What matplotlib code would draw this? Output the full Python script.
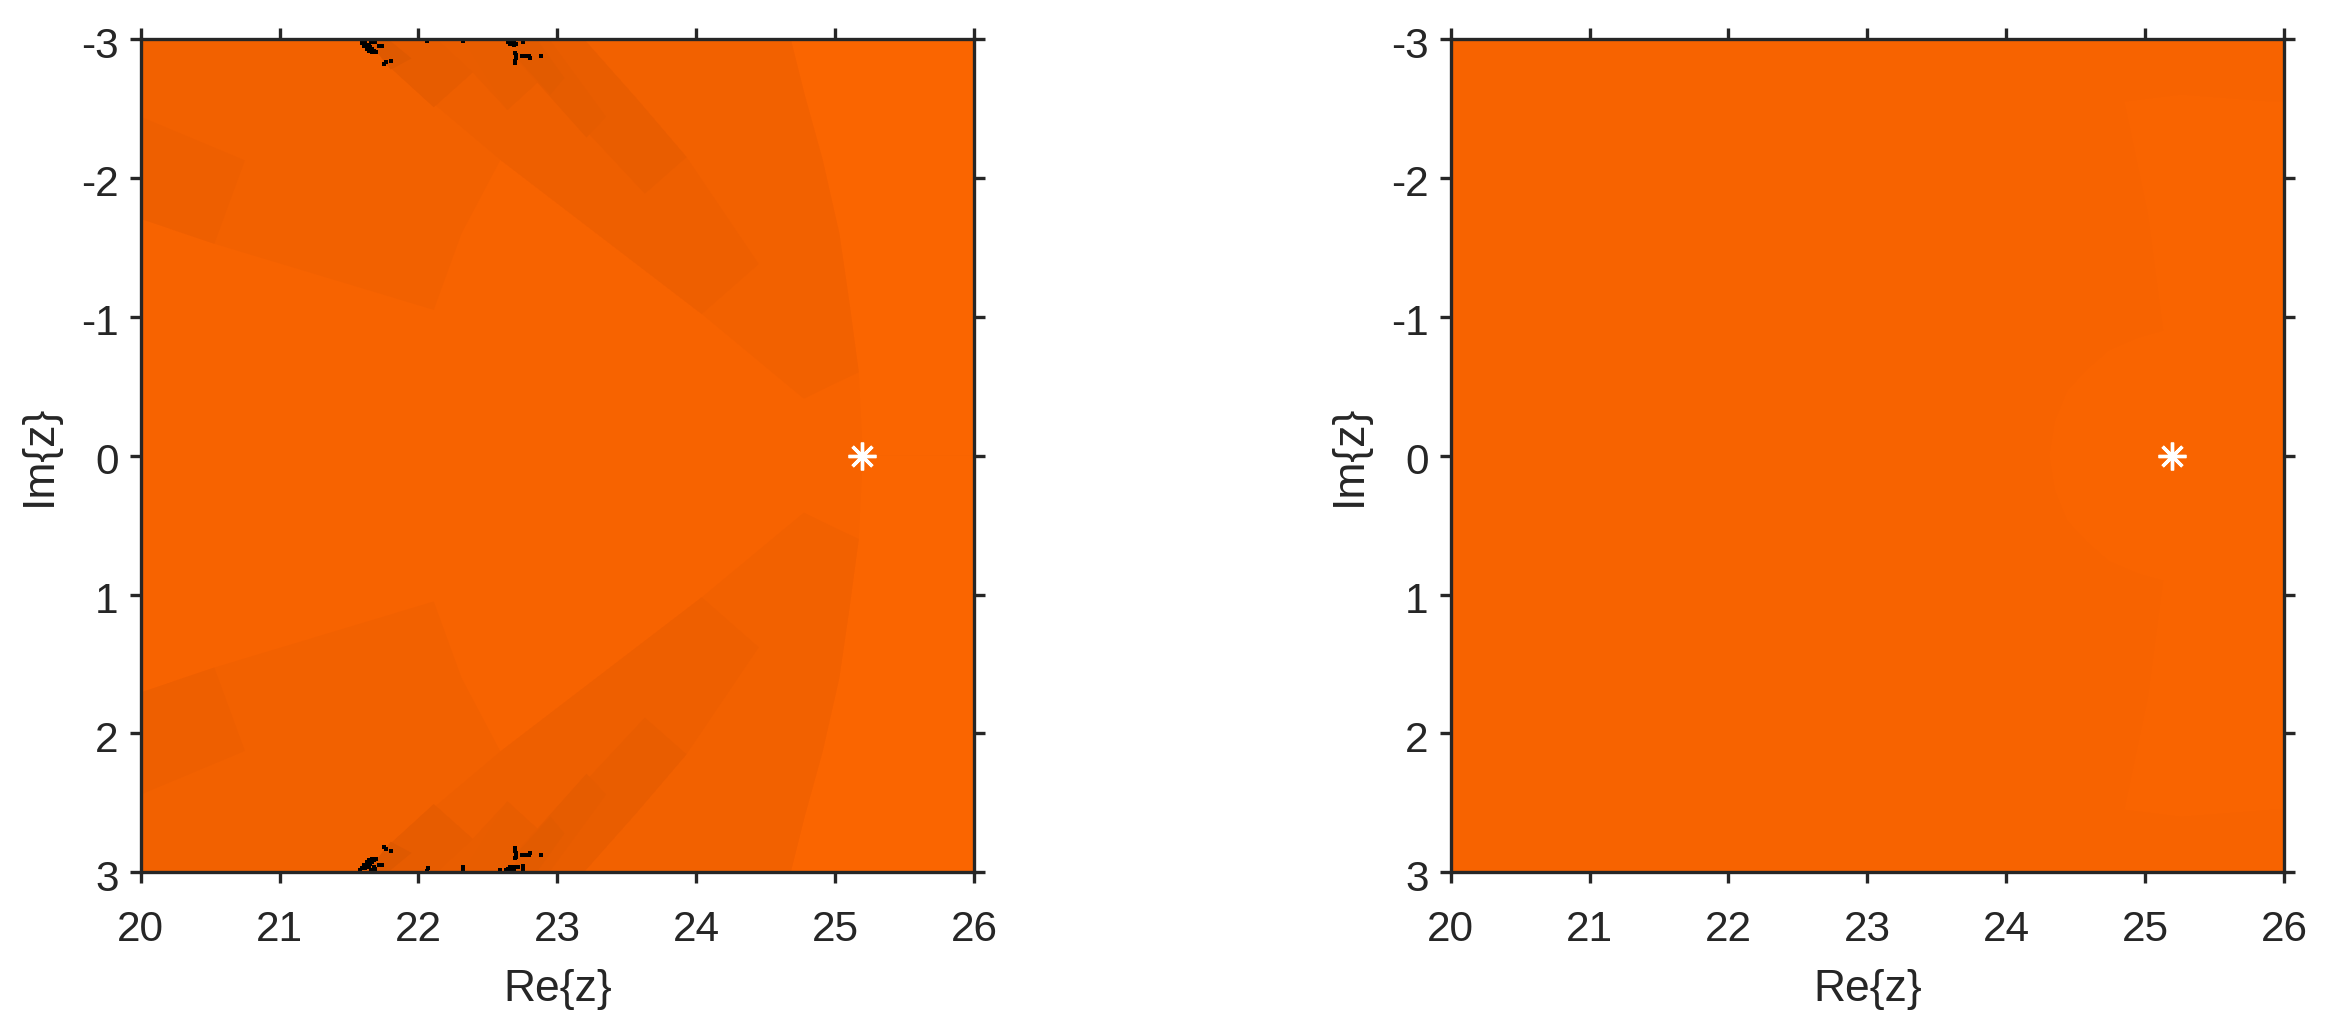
import numpy as np
import matplotlib
matplotlib.use("Agg")
import matplotlib.pyplot as plt
from matplotlib.transforms import ScaledTranslation

plt.rcParams['font.family'] = ['Liberation Sans', 'DejaVu Sans']
plt.rcParams['axes.unicode_minus'] = False

# Axis ticks
x_ticks = [20, 21, 22, 23, 24, 25, 26]
y_ticks = [-3, -2, -1, 0, 1, 2, 3]
star_re = 25.19
star_im = 0.0

# Region outlines in the upper half plane (mirrored across Im{z}=0)
region_a = [(20, -3), (24.68, -3), (24.78, -2.6), (24.91, -2.13), (25.03, -1.6), (25.10, -1.12),
            (25.17, -0.6), (25.0, -0.52), (24.775, -0.41), (24.04, -1.02), (22.59, -2.13),
            (22.31, -1.6), (22.11, -1.05), (20.53, -1.526), (20, -1.706)]
region_b = [(20, -2.44), (20.75, -2.126), (20.53, -1.526), (20, -1.706)]
region_c = [(21.63, -3), (23.19, -3), (23.58, -2.56), (23.93, -2.15), (24.45, -1.38),
            (24.04, -1.02), (22.59, -2.13), (21.77, -2.82)]
region_d = [(21.63, -3), (23.19, -3), (23.58, -2.56), (23.93, -2.15), (23.63, -1.886),
            (22.87, -2.70), (22.64, -2.49), (22.39, -2.76), (22.11, -2.51), (21.77, -2.82)]
region_e1 = [(21.63, -3), (21.77, -2.82), (22.11, -2.51), (22.39, -2.76), (22.13, -3)]
region_e2 = [(22.32, -3), (22.64, -2.49), (22.87, -2.70), (22.72, -3)]
region_e3 = [(22.70, -3), (22.71, -2.85), (23.21, -2.29), (23.35, -2.44), (22.94, -3)]
region_f1 = [(21.63, -3), (21.80, -2.78), (21.95, -2.86), (21.78, -3)]
region_f2 = [(22.68, -3), (22.72, -2.85), (22.95, -2.60), (23.05, -2.72), (22.85, -3)]
region_right_panel = [(26, -2.55), (25.91, -2.55), (25.26, -2.60), (24.85, -2.55), (25.02, -1.74),
                      (25.13, -0.9), (24.95, -0.85), (24.74, -0.76), (24.58, -0.62), (24.44, -0.47),
                      (24.35, -0.25), (24.31, 0)]

# Black specks
speck_re_top = [21.594, 21.606, 21.618, 21.618, 21.630, 21.642, 21.642, 21.654, 21.666, 21.666,
                21.661, 21.690, 21.713, 21.737, 21.694, 21.799, 21.766, 21.754, 22.645, 22.669,
                22.688, 22.688, 22.753, 22.693, 22.705, 22.705, 22.693, 22.693, 22.746, 22.765,
                22.798, 22.803, 22.884, 22.065, 22.323,
                21.606, 21.630, 21.630, 21.654, 21.642, 21.666, 21.678, 22.657, 22.700]
speck_im_top = [-2.970, -2.960, -2.970, -2.951, -2.941, -2.960, -2.932, -2.922, -2.912, -2.903,
                -2.980, -2.980, -2.951, -2.951, -2.903, -2.845, -2.831, -2.817, -2.975, -2.975,
                -2.975, -2.960, -2.977, -2.900, -2.888, -2.860, -2.845, -2.828, -2.874, -2.874,
                -2.879, -2.862, -2.874, -2.989, -2.989,
                -2.950, -2.955, -2.925, -2.940, -2.915, -2.925, -2.910, -2.965, -2.965]
speck_re_bottom = [21.582, 21.666, 21.678, 21.690, 22.067, 22.320, 22.320, 22.588, 22.633, 22.753,
                   22.753, 22.681, 22.717]
speck_im_bottom = [2.980, 2.980, 2.960, 2.975, 2.970, 2.975, 2.960, 2.985, 2.985, 2.955,
                   2.985, 2.970, 2.965]

BASE = '#F76300'
LIGHT = '#FA6500'
TEXT = '#262626'

W, H = 2343, 1033
fig = plt.figure(figsize=(W / 100, H / 100), dpi=100, facecolor='white')


def make_axes(l, r, t=39, b=872.3):
    return fig.add_axes([l / W, 1 - b / H, (r - l) / W, (b - t) / H])


def both(ax, verts, color, z):
    v = np.array(verts, float)
    ax.fill(v[:, 0], v[:, 1], color=color, lw=0, zorder=z)
    ax.fill(v[:, 0], -v[:, 1], color=color, lw=0, zorder=z)


def style(ax):
    ax.set_xlim(20, 26)
    ax.set_ylim(3, -3)
    ax.set_xticks(x_ticks)
    ax.set_yticks(y_ticks)
    ax.tick_params(axis='x', which='both', direction='out', length=7.9, width=2.4, top=True, bottom=True,
                   color=TEXT, labelcolor=TEXT, labelsize=30.5, pad=19)
    ax.tick_params(axis='y', which='both', direction='out', length=7.9, width=2.4, left=True, right=True,
                   color=TEXT, labelcolor=TEXT, labelsize=30.5, pad=8)
    for s in ax.spines.values():
        s.set_linewidth(2.4)
        s.set_color(TEXT)
        s.set_zorder(10)
    ax.set_facecolor(BASE)
    ax.set_xlabel('Re{z}', fontsize=32, color=TEXT, labelpad=14)
    ax.set_ylabel('Im{z}', fontsize=32, color=TEXT, labelpad=15)
    off = ScaledTranslation(0, -3 / 100, fig.dpi_scale_trans)
    for lab in ax.get_yticklabels():
        lab.set_transform(lab.get_transform() + off)
    ax.plot([star_re], [star_im], linestyle='none', marker=(8, 2, 0), ms=20, mew=2.4, color='white', zorder=8)


# Left panel
axl = make_axes(140.7, 974)
light = np.array([(26, -3), (24.68, -3), (24.78, -2.6), (24.91, -2.13), (25.03, -1.6), (25.10, -1.12),
                  (25.17, -0.6), (25.20, 0), (26, 0)], float)
axl.fill(light[:, 0], light[:, 1], color=LIGHT, lw=0, zorder=1)
axl.fill(light[:, 0], -light[:, 1], color=LIGHT, lw=0, zorder=1)
both(axl, region_a, '#F26100', 2)
both(axl, region_b, '#EE5F00', 3)
both(axl, region_c, '#EE5F00', 3)
both(axl, region_d, '#E95D00', 4)
both(axl, region_e1, '#E75C00', 5)
both(axl, region_e2, '#E85D00', 5)
both(axl, region_e3, '#E65C00', 5)
both(axl, region_f1, '#DF5900', 6)
both(axl, region_f2, '#E25B00', 6)
axl.scatter(speck_re_top, speck_im_top, s=8, marker='s', color='black', lw=0, zorder=7)
axl.scatter(speck_re_top, np.negative(speck_im_top), s=8, marker='s', color='black', lw=0, zorder=7)
axl.scatter(speck_re_bottom, speck_im_bottom, s=8, marker='s', color='black', lw=0, zorder=7)
style(axl)

# Right panel
axr = make_axes(1450.7, 2284)
v = np.array(region_right_panel, float)
outline = np.vstack([v, v[-2::-1] * [1, -1]])
axr.fill(outline[:, 0], outline[:, 1], color='#F96400', lw=0, zorder=1)
style(axr)

fig.savefig('out.png', dpi=100, facecolor='white')
